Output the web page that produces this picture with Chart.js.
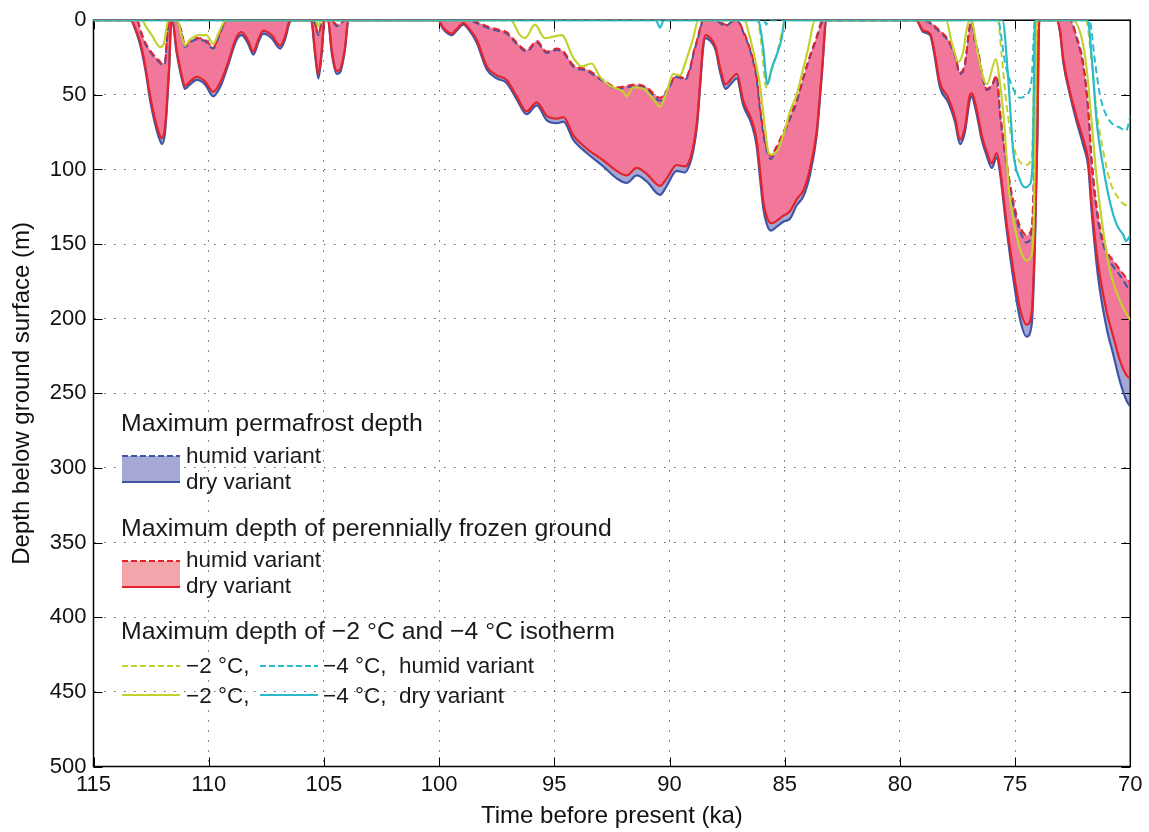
<!DOCTYPE html>
<html>
<head>
<meta charset="utf-8">
<script src="https://cdn.jsdelivr.net/npm/chart.js@4.4.0/dist/chart.umd.min.js"></script>
<style>
  body { margin: 0; background: #fff; }
  #wrap { position: relative; width: 1149px; height: 832px; font-family: "Liberation Sans", Arial, Helvetica, sans-serif; color: #1a1a1a; }
  #wrap canvas { position: absolute; left: 0; top: 0; }
  .lt { position: absolute; font-size: 24.8px; line-height: 28px; white-space: nowrap; }
  .li { position: absolute; font-size: 22.5px; line-height: 26px; white-space: nowrap; }
  .sw { position: absolute; width: 58px; }
  .dash { position: absolute; height: 2px; width: 58px; }
  .solid { position: absolute; height: 2px; width: 58px; }
</style>
</head>
<body>
<div id="wrap">
  <canvas id="chart" width="1149" height="832"></canvas>

  <div class="lt" style="left:121px;top:409px">Maximum permafrost depth</div>
  <div class="sw" style="left:122px;top:456px;height:26px;background:#a5a7d4"></div>
  <div class="dash" style="left:122px;top:455px;background:repeating-linear-gradient(90deg,#3f56a6 0 6px,transparent 6px 9px)"></div>
  <div class="solid" style="left:122px;top:481px;background:#3f56a6"></div>
  <div class="li" style="left:186px;top:443px">humid variant</div>
  <div class="li" style="left:186px;top:468.5px">dry variant</div>

  <div class="lt" style="left:121px;top:514px">Maximum depth of perennially frozen ground</div>
  <div class="sw" style="left:122px;top:561px;height:26px;background:#f4a5ab"></div>
  <div class="dash" style="left:122px;top:560px;background:repeating-linear-gradient(90deg,#e3242b 0 6px,transparent 6px 9px)"></div>
  <div class="solid" style="left:122px;top:586px;background:#e3242b"></div>
  <div class="li" style="left:186px;top:547px">humid variant</div>
  <div class="li" style="left:186px;top:572.5px">dry variant</div>

  <div class="lt" style="left:121px;top:617px">Maximum depth of −2 °C and −4 °C isotherm</div>
  <div class="dash" style="left:122px;top:665px;background:repeating-linear-gradient(90deg,#c3d130 0 6px,transparent 6px 9px)"></div>
  <div class="li" style="left:186px;top:652.5px">−2 °C,</div>
  <div class="dash" style="left:260px;top:665px;background:repeating-linear-gradient(90deg,#2bbac9 0 6px,transparent 6px 9px)"></div>
  <div class="li" style="left:323px;top:652.5px">−4 °C,</div>
  <div class="li" style="left:399px;top:652.5px">humid variant</div>
  <div class="solid" style="left:122px;top:694px;background:#c3d130"></div>
  <div class="li" style="left:186px;top:682.5px">−2 °C,</div>
  <div class="solid" style="left:260px;top:694px;background:#2bbac9"></div>
  <div class="li" style="left:323px;top:682.5px">−4 °C,</div>
  <div class="li" style="left:399px;top:682.5px">dry variant</div>
</div>

<script>
// time before present (ka), shared by the permafrost / frozen ground curves
const tMain = [115, 113.4, 113.1, 112.95, 112.75, 112.55, 112.35, 112.15, 112.03, 111.9, 111.82, 111.72, 111.62, 111.58,
  111.4, 111.17, 111.03, 110.81, 110.52, 110.16, 109.8, 109.51, 109.22, 108.78, 108.57, 108.28, 108.06, 107.85, 107.63,
  107.27, 106.9, 106.69, 106.47, 106.3, 105.55, 105.39, 105.24, 105.1, 104.97, 104.82, 104.66, 104.44, 104.3, 104.08,
  103.94, 100.05, 99.82, 99.45, 99.24, 98.95, 98.73, 98.37, 97.93, 97.5, 97.07, 96.63, 96.2, 95.76, 95.33, 94.89, 94.6,
  94.18, 93.59, 92.87, 92.29, 91.86, 91.42, 90.99, 90.41, 90.12, 89.69, 89.33, 89.11, 88.95, 88.8, 88.65, 88.55, 88.44,
  88.22, 88.0, 87.8, 87.57, 87.3, 87.08, 86.8, 86.43, 86.22, 86.07, 85.93, 85.77, 85.6, 85.4, 85.06, 84.77, 84.48, 84.19,
  83.91, 83.61, 83.4, 83.18, 79.3, 78.98, 78.69, 78.55, 78.26, 77.9, 77.61, 77.39, 77.18, 76.96, 76.88, 76.74, 76.6,
  76.45, 76.23, 76.01, 75.8, 75.66, 75.37, 75.08, 74.79, 74.5, 74.28, 74.14, 74.04, 73.95, 73.2, 73.05, 72.91, 72.62,
  72.33, 72.04, 71.82, 71.68, 71.39, 71.03, 70.74, 70.45, 70.16, 70];

// depth (m) of perennially frozen ground, humid and dry variant
const pfgHumid = [0, 0, 0, 7, 15, 20, 24, 27, 29, 28, 14, 0, 0, 0,
  0, 8, 17, 14, 12, 13, 18, 8, 0, 0, 0, 0, 0, 0, 0,
  0, 0, 0, 0, 0, 0, 2, 9, 2, 0, 0, 0, 3, 2, 0,
  0, 0, 0, 0, 0, 0, 0, 1, 4, 6, 8, 15, 20, 14, 21, 19, 21,
  30, 33, 40, 45, 44, 43, 45, 52, 47, 37, 39, 32, 21, 13, 4, 0, 0,
  0, 0, 1, 3, 1, 0, 7, 23, 37, 58, 74, 86, 91, 86, 75, 64, 53, 38,
  24, 11, 1, 0, 0, 0, 1, 3, 7, 13, 23, 35, 29, 3, 1, 14, 21,
  34, 46, 43, 37, 60, 95, 121, 138, 144, 139, 82, 19, 0, 0, 0, 0, 0,
  11, 29, 60, 93, 132, 154, 161, 167, 173, 176];
const pfgDry = [0, 0, 9, 16, 31, 50, 65, 76, 79, 72, 57, 32, 0, 0,
  19, 37, 44, 41, 38, 41, 48, 42, 31, 11, 8, 14, 21, 13, 7,
  10, 17, 11, 0, 0, 0, 20, 36, 21, 0, 0, 20, 34, 33, 18,
  0, 0, 5, 9, 6, 2, 5, 13, 31, 37, 40, 51, 61, 55, 64, 66, 65,
  77, 86, 94, 101, 104, 99, 103, 111, 106, 97, 98, 93, 83, 67, 38, 18, 10,
  12, 18, 32, 43, 39, 36, 54, 67, 80, 101, 121, 132, 136, 135, 131, 128, 120, 114,
  100, 74, 37, 0, 0, 7, 9, 17, 42, 52, 65, 80, 72, 50, 49, 55, 65,
  77, 88, 96, 89, 99, 136, 167, 193, 204, 196, 145, 80, 0, 0, 7, 26, 48,
  65, 80, 95, 123, 164, 195, 212, 228, 238, 240];

// depth (m) of permafrost, humid and dry variant
const pfHumid = [0, 0, 0, 8, 16, 21, 25, 28, 30, 29, 15, 0, 0, 0,
  0, 9, 18, 15, 13, 14, 19, 9, 0, 0, 0, 0, 0, 0, 0,
  0, 0, 0, 0, 0, 0, 2, 10, 2, 0, 0, 0, 4, 3, 0,
  0, 0, 0, 0, 0, 0, 0, 2, 5, 7, 9, 16, 21, 15, 22, 20, 22,
  31, 34, 41, 46, 45, 44, 46, 54, 48, 38, 40, 33, 22, 14, 5, 0, 0,
  0, 0, 2, 4, 1, 0, 8, 24, 39, 60, 76, 88, 93, 88, 77, 66, 55, 39,
  25, 12, 2, 0, 0, 0, 2, 4, 8, 14, 24, 36, 30, 4, 2, 15, 22,
  35, 47, 44, 38, 62, 97, 124, 141, 149, 142, 84, 20, 0, 0, 0, 0, 0,
  12, 31, 62, 95, 135, 157, 165, 171, 178, 182];
const pfDry = [0, 0, 10, 18, 33, 53, 68, 79, 83, 76, 60, 34, 0, 0,
  21, 39, 46, 43, 40, 43, 51, 45, 33, 13, 10, 16, 23, 15, 9,
  12, 19, 13, 1, 0, 0, 22, 39, 23, 0, 0, 22, 36, 35, 19,
  0, 0, 6, 10, 7, 3, 6, 15, 33, 39, 42, 53, 63, 57, 67, 69, 68,
  80, 89, 98, 106, 109, 104, 108, 117, 111, 101, 102, 96, 86, 70, 40, 20, 12,
  14, 20, 35, 46, 42, 39, 57, 70, 84, 106, 126, 137, 141, 139, 135, 133, 124, 118,
  104, 77, 39, 0, 0, 8, 10, 19, 45, 55, 68, 83, 75, 53, 51, 58, 68,
  80, 91, 99, 92, 102, 140, 173, 200, 212, 204, 151, 84, 0, 0, 8, 28, 50,
  68, 84, 99, 128, 173, 206, 224, 242, 255, 259];

// maximum depth of the -2 degC isotherm
const iso2DryT = [115, 112.9, 112.7, 112.47, 112.11, 111.95, 111.75, 111.35, 111.2, 111.03, 110.81, 110.38, 110.1,
  109.8, 109.58, 109.25, 105.35, 105.24, 105.12, 96.9, 96.49, 96.27, 95.84, 95.41, 95.04, 94.68, 94.18, 93.81,
  93.38, 93.02, 92.58, 92.0, 91.86, 91.57, 91.13, 90.7, 90.41, 90.12, 89.84, 89.55, 89.26, 88.97, 88.75, 86.75,
  86.57, 86.36, 86.07, 85.85, 85.7, 85.56, 85.27, 84.98, 84.77, 84.48, 84.19, 83.98, 83.68, 78.0, 77.75, 77.46,
  77.25, 77.1, 76.96, 76.85, 76.6, 76.23, 75.83, 75.69, 75.48, 75.26, 75.08, 74.79, 74.5, 74.28, 74.18, 74.12,
  74.06, 72.5, 72.11, 71.9, 71.68, 71.46, 71.17, 70.88, 70.45, 70];
const iso2Dry = [0, 0, 5, 10, 18, 16, 0, 0, 9, 17, 13, 10, 10,
  16, 9, 0, 0, 4, 0, 0, 10, 12, 3, 12, 11, 10, 25, 31,
  29, 38, 44, 48, 51, 45, 46, 53, 58, 48, 36, 37, 26, 12, 0, 0,
  8, 21, 44, 73, 89, 90, 86, 73, 61, 50, 32, 19, 0, 0, 15, 28,
  21, 6, 0, 2, 24, 43, 26, 38, 68, 115, 133, 153, 161, 157, 128, 60,
  0, 0, 12, 32, 68, 106, 142, 168, 188, 201];
const iso2HumidT = [115, 86.2, 86.0, 85.81, 85.64, 85.34, 85.09, 85.0, 75.75, 75.58, 75.37, 75.08, 74.79, 74.5,
  74.28, 74.18, 74.12, 71.92, 71.68, 71.46, 71.17, 70.88, 70.52, 70.16, 70];
const iso2Humid = [0, 0, 17, 45, 37, 22, 6, 0, 0, 24, 57, 84, 95, 97,
  92, 40, 0, 0, 28, 61, 88, 108, 119, 124, 123];

// maximum depth of the -4 degC isotherm
const iso4DryT = [115, 90.6, 90.41, 90.25, 86.15, 86.07, 85.93, 85.75, 85.56, 85.34, 85.13, 85.0, 75.55, 75.3,
  75.08, 74.79, 74.57, 74.36, 74.24, 74.18, 74.14, 71.85, 71.68, 71.46, 71.17, 70.88, 70.59, 70.3, 70.18, 70];
const iso4Dry = [0, 0, 5, 0, 0, 4, 19, 43, 32, 23, 12, 0, 0, 39,
  88, 107, 112, 110, 95, 40, 0, 0, 24, 68, 99, 122, 137, 144, 148, 144];
const iso4HumidT = [115, 85.9, 85.8, 85.7, 75.75, 75.44, 75.08, 74.79, 74.5, 74.28, 74.2, 74.15, 71.78, 71.53,
  71.32, 70.96, 70.45, 70.18, 70];
const iso4Humid = [0, 0, 3, 0, 0, 28, 46, 52, 50, 39, 14, 0, 0, 28,
  50, 66, 72, 74, 64];

const xTicks = [115, 110, 105, 100, 95, 90, 85, 80, 75, 70];
const yTicks = [0, 50, 100, 150, 200, 250, 300, 350, 400, 450, 500];

const BLUE = '#3f56a6', RED = '#e3242b', YELLOW = '#c3d130', CYAN = '#2bbac9';
const LAVENDER = '#a5a7d4', PINK = '#f1779b';
const FONT = '"Liberation Sans", Arial, Helvetica, sans-serif';

function pts(t, d) {
    return t.map((v, i) => ({ x: v, y: d[i] }));
}

function line(label, t, d, color, dashed, extra) {
    return Object.assign({
        label: label,
        data: pts(t, d),
        borderColor: color,
        borderWidth: dashed ? 2 : 2.2,
        borderDash: dashed ? [7, 4] : [],
        pointRadius: 0,
        cubicInterpolationMode: 'monotone',
        fill: false
    }, extra || {});
}

// closed box with inward tick marks on all four sides, drawn under the curves
const boxTicks = {
    id: 'boxTicks',
    beforeDatasetsDraw(chart) {
        const { ctx, chartArea: a, scales: { x, y } } = chart;
        ctx.save();
        ctx.strokeStyle = '#000';
        ctx.lineWidth = 1;
        ctx.beginPath();
        x.ticks.forEach((t, i) => {
            const px = Math.round(x.getPixelForTick(i)) + 0.5;
            ctx.moveTo(px, a.bottom); ctx.lineTo(px, a.bottom - 9);
            ctx.moveTo(px, a.top); ctx.lineTo(px, a.top + 9);
        });
        y.ticks.forEach((t, i) => {
            const py = Math.round(y.getPixelForTick(i)) + 0.5;
            ctx.moveTo(a.left, py); ctx.lineTo(a.left + 9, py);
            ctx.moveTo(a.right, py); ctx.lineTo(a.right - 9, py);
        });
        ctx.stroke();
        ctx.lineWidth = 1.5;
        ctx.strokeRect(a.left, a.top, a.right - a.left, a.bottom - a.top);
        ctx.restore();
    }
};

const ctx = document.getElementById('chart').getContext('2d');

new Chart(ctx, {
    type: 'line',
    data: {
        datasets: [
            line('−4 °C, dry variant', iso4DryT, iso4Dry, CYAN, false),
            line('−4 °C, humid variant', iso4HumidT, iso4Humid, CYAN, true),
            line('−2 °C, dry variant', iso2DryT, iso2Dry, YELLOW, false),
            line('−2 °C, humid variant', iso2HumidT, iso2Humid, YELLOW, true),
            line('Perennially frozen ground, humid', tMain, pfgHumid, RED, true),
            line('Perennially frozen ground, dry', tMain, pfgDry, RED, false, { fill: 4, backgroundColor: PINK }),
            line('Permafrost, humid', tMain, pfHumid, BLUE, true),
            line('Permafrost, dry', tMain, pfDry, BLUE, false, { fill: 6, backgroundColor: LAVENDER })
        ]
    },
    options: {
        responsive: false,
        animation: false,
        layout: { padding: { left: 0, top: 17.5, right: 18.7, bottom: 0 } },
        plugins: {
            legend: { display: false },
            tooltip: { enabled: false },
            filler: { drawTime: 'beforeDatasetsDraw' }
        },
        scales: {
            x: {
                type: 'linear',
                reverse: true,
                min: 70,
                max: 115,
                afterBuildTicks: s => { s.ticks = xTicks.map(v => ({ value: v })); },
                afterFit: s => { s.height = 65.5; },
                grid: { color: '#666', lineWidth: 1, drawTicks: false },
                border: { display: false, dash: [1.5, 8.5] },
                ticks: { color: '#111', padding: 5, font: { family: FONT, size: 22 } },
                title: { display: true, text: 'Time before present (ka)', color: '#111', padding: { top: 0, bottom: 1 }, font: { family: FONT, size: 24 } }
            },
            y: {
                type: 'linear',
                reverse: true,
                min: 0,
                max: 500,
                afterBuildTicks: s => { s.ticks = yTicks.map(v => ({ value: v })); },
                afterFit: s => { s.width = 93.5; },
                grid: { color: '#666', lineWidth: 1, drawTicks: false },
                border: { display: false, dash: [1.5, 8.5] },
                ticks: { color: '#111', padding: 7, font: { family: FONT, size: 22 } },
                title: { display: true, text: 'Depth below ground surface (m)', color: '#111', padding: { top: 8, bottom: 0 }, font: { family: FONT, size: 24 } }
            }
        }
    },
    plugins: [boxTicks]
});
</script>
</body>
</html>
